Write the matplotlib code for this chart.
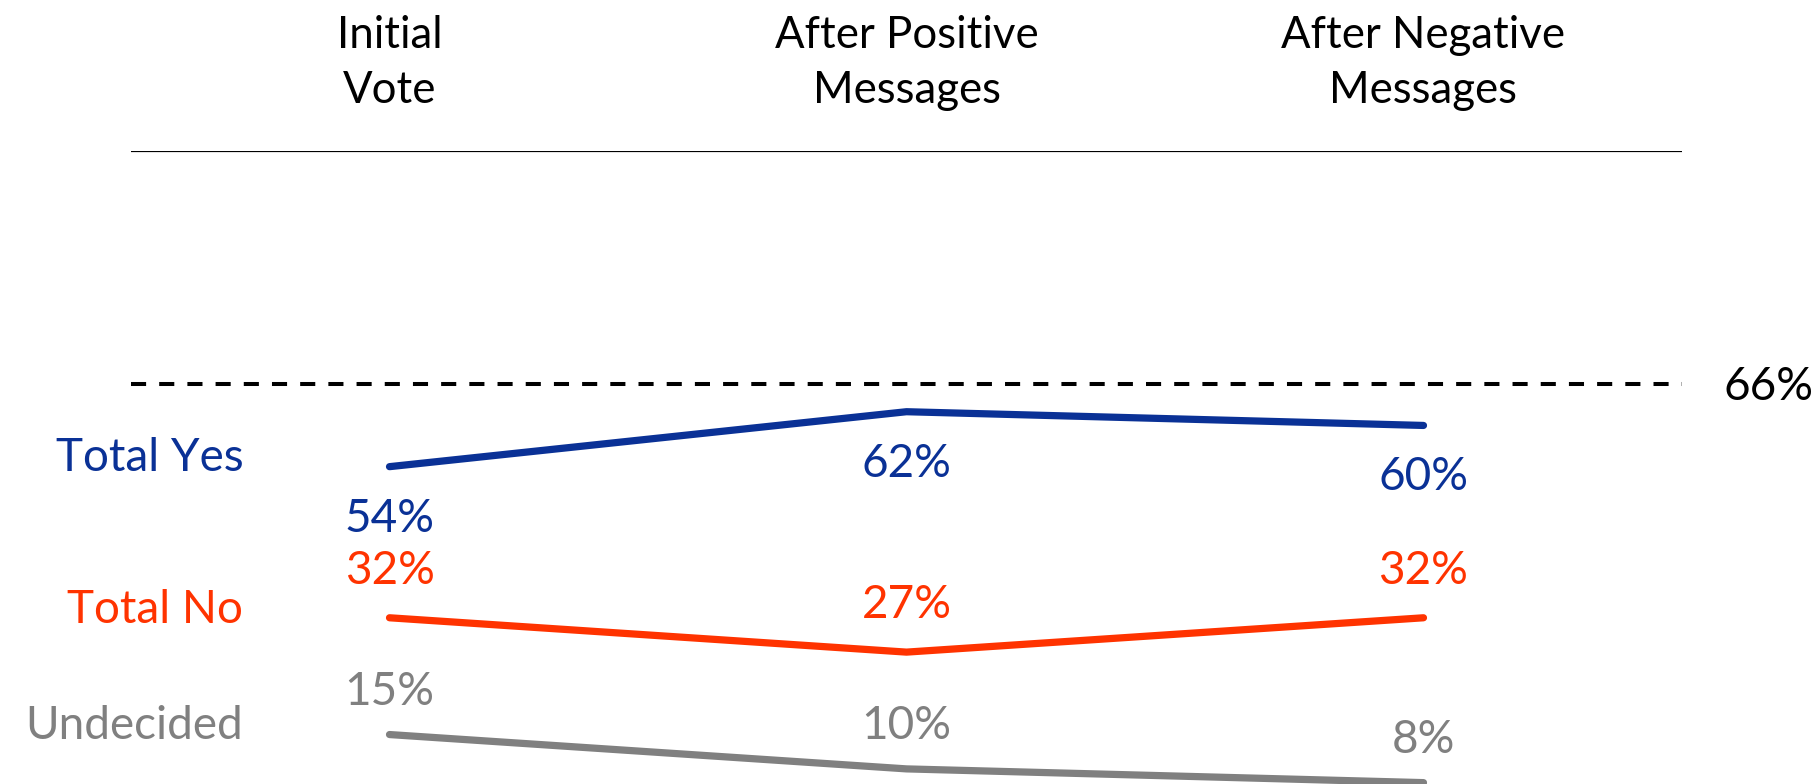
import matplotlib.pyplot as plt

plt.rcParams['font.family'] = ['Lato', 'DejaVu Sans']

stages = ['Initial\nVote', 'After Positive\nMessages', 'After Negative\nMessages']
yes = [54, 62, 60]
no = [32, 27, 32]
undecided = [15, 10, 8]
threshold = 66

series = [
    ('Total Yes', yes, '#0A3196', -52),
    ('Total No', no, '#FF3300', 47),
    ('Undecided', undecided, '#808080', 43),
]

fig = plt.figure(figsize=(18.17, 7.84), dpi=100)
ax = fig.add_axes([0.0721, 0.0, 0.9257 - 0.0721, 1 - 150.7 / 784])
ax.set_xlim(-0.5, 2.5)
ax.set_ylim(7.8, 100)
ax.axis('off')

x = list(range(len(stages)))
fs = 33

# top rule at 100%
ax.axhline(100, color='black', lw=1.6)
# threshold
ax.axhline(threshold, color='black', lw=2.9, dashes=(3.75, 3.25), dash_capstyle='butt')
ax.text(2.667, threshold - 0.4, f'{threshold}%', fontsize=fs, ha='center', va='center')

for name, vals, col, off in series:
    ax.plot(x, vals, color=col, lw=5.2, solid_capstyle='round', clip_on=True)
    ax.text(-0.283, vals[0] + 1.2, name, color=col, fontsize=fs, ha='right', va='center')
    for xi, v in zip(x, vals):
        ax.annotate(f'{v}%', (xi, v), xytext=(0, off), textcoords='offset pixels',
                    color=col, fontsize=fs, ha='center', va='center')

for xi, s in zip(x, stages):
    ax.text(xi, 112.8, s, fontsize=31.5, ha='center', va='center', linespacing=1.42,
            clip_on=False)

fig.savefig('out.png', dpi=100)
